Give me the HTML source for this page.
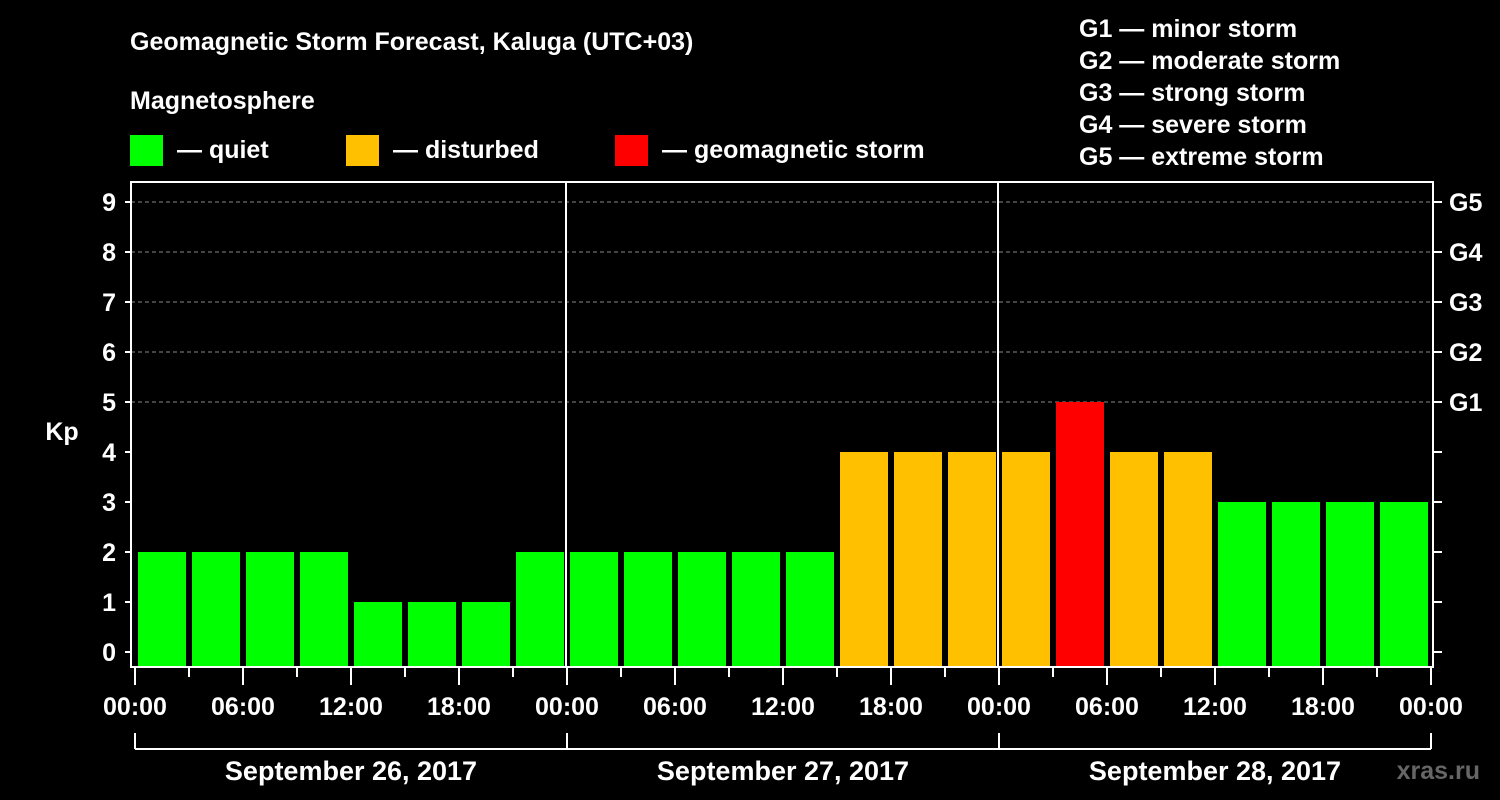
<!DOCTYPE html>
<html><head><meta charset="utf-8"><style>
body{margin:0;background:#000;width:1500px;height:800px;overflow:hidden}
svg{display:block}
text{font-family:"Liberation Sans",sans-serif;font-weight:bold;fill:#fff}
</style></head><body>
<svg id="c" width="1500" height="800">
<text x="130" y="50" font-size="25">Geomagnetic Storm Forecast, Kaluga (UTC+03)</text>
<text x="130" y="109" font-size="25">Magnetosphere</text>
<g><rect x="130" y="135" width="33" height="31" fill="#00ff00"/><text x="177" y="158" font-size="25">— quiet</text></g>
<g><rect x="346" y="135" width="33" height="31" fill="#ffc000"/><text x="393" y="158" font-size="25">— disturbed</text></g>
<g><rect x="615" y="135" width="33" height="31" fill="#ff0000"/><text x="662" y="158" font-size="25">— geomagnetic storm</text></g>
<g font-size="25">
<text x="1079" y="37">G1 — minor storm</text>
<text x="1079" y="69">G2 — moderate storm</text>
<text x="1079" y="101">G3 — strong storm</text>
<text x="1079" y="133">G4 — severe storm</text>
<text x="1079" y="165">G5 — extreme storm</text>
</g>
<g id="grid"></g><g id="bars"></g><g id="axes"></g>
<text x="62" y="440" font-size="25" text-anchor="middle">Kp</text>
<text x="1480" y="779" font-size="25" text-anchor="end" fill="#777" style="fill:#666">xras.ru</text>
</svg>
<script>
const kpValues=[2,2,2,2,1,1,1,2, 2,2,2,2,2,4,4,4, 4,5,4,4,3,3,3,3];
const dayLabels=["September 26, 2017","September 27, 2017","September 28, 2017"];
const timeLabels=["00:00","06:00","12:00","18:00"];
const gLabels=["G1","G2","G3","G4","G5"];
const NS="http://www.w3.org/2000/svg";
const X0=135,DAYW=432,SLOT=54,PL=131,PR=1433,PT=182,PB=667;
const y=v=>652-v*50;
const x=i=>X0+i*SLOT;
function mk(t,a,p){const e=document.createElementNS(NS,t);for(const k in a)e.setAttribute(k,a[k]);p.appendChild(e);return e;}
const grid=document.getElementById('grid'),bars=document.getElementById('bars'),axes=document.getElementById('axes');
for(let v=5;v<=9;v++){const l=mk('line',{x1:PL,x2:PR,y1:y(v),y2:y(v),stroke:'#888','stroke-dasharray':'4,3'},grid);

}
kpValues.forEach((v,i)=>{const c=v>=5?'#ff0000':v>=4?'#ffc000':'#00ff00';
const r=mk('rect',{x:x(i)+3,y:y(v),width:48,height:PB-1-y(v),fill:c},bars);

});
const fr=mk('rect',{x:PL,y:PT,width:PR-PL,height:PB-PT,fill:'none',stroke:'#fff','stroke-width':2},axes);


for(let d=1;d<3;d++){const l=mk('line',{x1:X0+d*DAYW-1,x2:X0+d*DAYW-1,y1:PT,y2:PB,stroke:'#fff','stroke-width':2},axes);

}
for(let v=0;v<=9;v++){mk('line',{x1:125,x2:PL,y1:y(v),y2:y(v),stroke:'#fff','stroke-width':2},axes);
mk('line',{x1:PR,x2:1442,y1:y(v),y2:y(v),stroke:'#fff','stroke-width':2},axes);
const t=mk('text',{x:116,y:y(v)+9,'font-size':25,'text-anchor':'end'},axes);t.textContent=v;

}
gLabels.forEach((g,i)=>{const t=mk('text',{x:1449,y:y(5+i)+9,'font-size':25},axes);t.textContent=g;

});
for(let i=0;i<=24;i++){const maj=i%2==0;mk('line',{x1:x(i),x2:x(i),y1:PB,y2:maj?685:677,stroke:'#fff','stroke-width':2},axes);
if(maj){const t=mk('text',{x:x(i),y:715,'font-size':25,'text-anchor':'middle'},axes);t.textContent=timeLabels[(i/2)%4];

}}
mk('line',{x1:X0,x2:X0+3*DAYW,y1:749,y2:749,stroke:'#fff','stroke-width':2},axes);
for(let d=0;d<=3;d++)mk('line',{x1:X0+d*DAYW,x2:X0+d*DAYW,y1:733,y2:749,stroke:'#fff','stroke-width':2},axes);
dayLabels.forEach((s,d)=>{const t=mk('text',{x:X0+d*DAYW+DAYW/2,y:780,'font-size':27,'text-anchor':'middle'},axes);t.textContent=s;

});
</script>
</body></html>
